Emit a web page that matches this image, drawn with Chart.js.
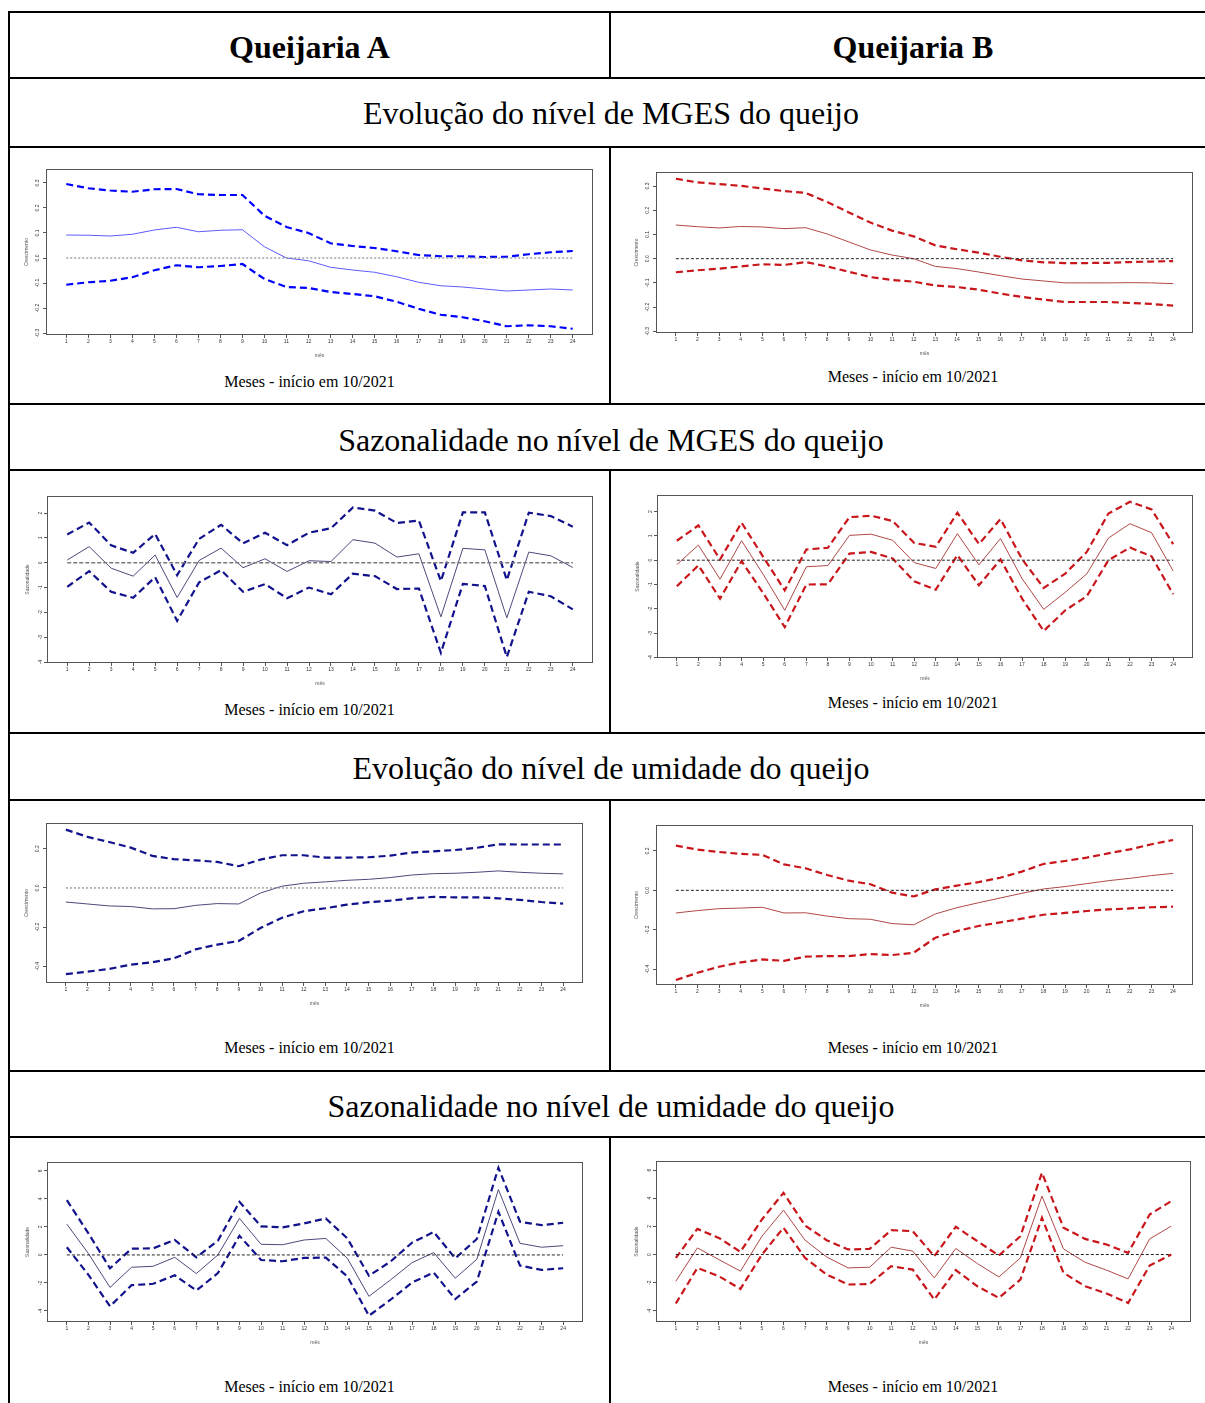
<!DOCTYPE html>
<html>
<head>
<meta charset="utf-8">
<script src="https://cdn.jsdelivr.net/npm/chart.js@4.4.0/dist/chart.umd.min.js"></script>
<style>
  body { margin: 0; background: #fff; }
  #page { position: relative; width: 1205px; height: 1403px; overflow: hidden;
          font-family: "Liberation Serif", "Times New Roman", serif; color: #000; }
  .hl { position: absolute; left: 8px; width: 1207px; height: 2px; background: #000; }
  .vl { position: absolute; width: 2px; background: #000; }
  .txt { position: absolute; text-align: center; white-space: nowrap; }
  .head { font-size: 32px; font-weight: bold; height: 40px; line-height: 40px; }
  .sec { font-size: 32px; height: 40px; line-height: 40px; left: 9px; width: 1204px; }
  .cap { font-size: 16px; height: 20px; line-height: 20px; }
  canvas { position: absolute; }
</style>
</head>
<body>
<div id="page">
  <!-- table lines -->
  <div class="hl" style="top:11px"></div>
  <div class="hl" style="top:77px"></div>
  <div class="hl" style="top:146px"></div>
  <div class="hl" style="top:403px"></div>
  <div class="hl" style="top:469px"></div>
  <div class="hl" style="top:732px"></div>
  <div class="hl" style="top:799px"></div>
  <div class="hl" style="top:1070px"></div>
  <div class="hl" style="top:1136px"></div>
  <div class="vl" style="left:8px;top:11px;height:1392px"></div>
  <div class="vl" style="left:609px;top:11px;height:67px"></div>
  <div class="vl" style="left:609px;top:146px;height:259px"></div>
  <div class="vl" style="left:609px;top:469px;height:265px"></div>
  <div class="vl" style="left:609px;top:799px;height:273px"></div>
  <div class="vl" style="left:609px;top:1136px;height:267px"></div>

  <div class="txt head" style="left:10px;width:599px;top:27px">Queijaria A</div>
  <div class="txt head" style="left:611px;width:604px;top:27px">Queijaria B</div>

  <div class="txt sec" style="top:93px">Evolução do nível de MGES do queijo</div>
  <div class="txt sec" style="top:420px">Sazonalidade no nível de MGES do queijo</div>
  <div class="txt sec" style="top:748px">Evolução do nível de umidade do queijo</div>
  <div class="txt sec" style="top:1086px">Sazonalidade no nível de umidade do queijo</div>

  <div class="txt cap" style="left:10px;width:599px;top:372px">Meses - início em 10/2021</div>
  <div class="txt cap" style="left:611px;width:604px;top:367px">Meses - início em 10/2021</div>
  <div class="txt cap" style="left:10px;width:599px;top:700px">Meses - início em 10/2021</div>
  <div class="txt cap" style="left:611px;width:604px;top:693px">Meses - início em 10/2021</div>
  <div class="txt cap" style="left:10px;width:599px;top:1038px">Meses - início em 10/2021</div>
  <div class="txt cap" style="left:611px;width:604px;top:1038px">Meses - início em 10/2021</div>
  <div class="txt cap" style="left:10px;width:599px;top:1377px">Meses - início em 10/2021</div>
  <div class="txt cap" style="left:611px;width:604px;top:1377px">Meses - início em 10/2021</div>

  <canvas id="c1a"></canvas>
  <canvas id="c1b"></canvas>
  <canvas id="c2a"></canvas>
  <canvas id="c2b"></canvas>
  <canvas id="c3a"></canvas>
  <canvas id="c3b"></canvas>
  <canvas id="c4a"></canvas>
  <canvas id="c4b"></canvas>
</div>

<script>
const months = [1,2,3,4,5,6,7,8,9,10,11,12,13,14,15,16,17,18,19,20,21,22,23,24];
const zeroLine = [0, 0];

// Evolução do nível de MGES
const mgesLevelA_up  = [0.296,0.279,0.270,0.265,0.275,0.276,0.255,0.252,0.252,0.169,0.124,0.100,0.059,0.048,0.040,0.027,0.012,0.007,0.007,0.004,0.005,0.015,0.023,0.028];
const mgesLevelA_fit = [0.092,0.091,0.088,0.095,0.112,0.123,0.105,0.111,0.113,0.045,0.000,-0.011,-0.037,-0.048,-0.057,-0.075,-0.097,-0.111,-0.116,-0.124,-0.132,-0.128,-0.124,-0.128];
const mgesLevelA_lo  = [-0.107,-0.097,-0.091,-0.077,-0.049,-0.029,-0.037,-0.032,-0.024,-0.084,-0.116,-0.120,-0.136,-0.144,-0.153,-0.175,-0.203,-0.227,-0.237,-0.253,-0.273,-0.269,-0.273,-0.283];
const mgesLevelB_up  = [0.330,0.315,0.308,0.301,0.290,0.279,0.272,0.234,0.191,0.149,0.116,0.092,0.055,0.039,0.025,0.008,-0.007,-0.015,-0.018,-0.018,-0.017,-0.014,-0.012,-0.010];
const mgesLevelB_fit = [0.139,0.132,0.127,0.133,0.131,0.124,0.128,0.102,0.069,0.036,0.015,0.000,-0.032,-0.041,-0.055,-0.070,-0.084,-0.092,-0.100,-0.100,-0.100,-0.099,-0.100,-0.103];
const mgesLevelB_lo  = [-0.056,-0.048,-0.041,-0.032,-0.023,-0.026,-0.014,-0.032,-0.054,-0.076,-0.088,-0.095,-0.111,-0.117,-0.128,-0.144,-0.158,-0.169,-0.179,-0.179,-0.179,-0.183,-0.187,-0.194];

// Sazonalidade no nível de MGES
const mgesSeasA_up  = [1.14,1.62,0.70,0.40,1.16,-0.50,0.96,1.53,0.78,1.21,0.71,1.21,1.39,2.23,2.10,1.60,1.70,-0.74,2.03,2.03,-0.70,2.02,1.88,1.45];
const mgesSeasA_fit = [0.11,0.65,-0.22,-0.54,0.31,-1.40,0.09,0.59,-0.20,0.16,-0.35,0.08,0.05,0.93,0.79,0.23,0.36,-2.18,0.58,0.52,-2.22,0.43,0.28,-0.19];
const mgesSeasA_lo  = [-0.97,-0.34,-1.17,-1.41,-0.58,-2.34,-0.79,-0.30,-1.17,-0.86,-1.43,-1.00,-1.27,-0.44,-0.54,-1.06,-1.04,-3.63,-0.85,-0.94,-3.80,-1.17,-1.35,-1.88];
const mgesSeasB_up  = [0.80,1.43,0.03,1.54,0.14,-1.24,0.44,0.51,1.77,1.83,1.61,0.71,0.55,1.95,0.67,1.69,0.04,-1.14,-0.55,0.34,1.92,2.40,2.09,0.66];
const mgesSeasB_fit = [-0.18,0.62,-0.78,0.80,-0.58,-2.06,-0.27,-0.22,1.02,1.07,0.82,-0.10,-0.34,1.09,-0.19,0.89,-0.76,-2.02,-1.32,-0.56,0.91,1.50,1.13,-0.44];
const mgesSeasB_lo  = [-1.07,-0.21,-1.58,-0.04,-1.35,-2.75,-1.00,-0.99,0.27,0.34,0.07,-0.87,-1.21,0.21,-1.03,0.03,-1.58,-2.91,-2.06,-1.48,0.00,0.52,0.16,-1.40];

// Evolução do nível de umidade
const umidLevelA_up  = [0.298,0.261,0.235,0.206,0.164,0.147,0.141,0.133,0.111,0.145,0.167,0.167,0.155,0.155,0.157,0.165,0.181,0.187,0.194,0.205,0.223,0.222,0.222,0.222];
const umidLevelA_fit = [-0.072,-0.082,-0.092,-0.095,-0.107,-0.106,-0.089,-0.080,-0.082,-0.026,0.009,0.024,0.031,0.039,0.044,0.053,0.066,0.073,0.075,0.080,0.087,0.080,0.075,0.072];
const umidLevelA_lo  = [-0.441,-0.428,-0.414,-0.392,-0.380,-0.360,-0.314,-0.290,-0.271,-0.205,-0.152,-0.119,-0.104,-0.085,-0.073,-0.065,-0.053,-0.046,-0.048,-0.048,-0.053,-0.061,-0.072,-0.080];
const umidLevelB_up  = [0.227,0.207,0.195,0.185,0.180,0.132,0.112,0.078,0.049,0.031,-0.012,-0.031,0.005,0.024,0.042,0.064,0.095,0.134,0.149,0.166,0.188,0.208,0.234,0.256];
const umidLevelB_fit = [-0.115,-0.103,-0.093,-0.090,-0.086,-0.115,-0.114,-0.131,-0.144,-0.147,-0.169,-0.175,-0.120,-0.088,-0.063,-0.039,-0.015,0.007,0.019,0.034,0.049,0.061,0.075,0.086];
const umidLevelB_lo  = [-0.456,-0.419,-0.388,-0.366,-0.351,-0.358,-0.337,-0.334,-0.334,-0.324,-0.329,-0.317,-0.241,-0.207,-0.181,-0.163,-0.144,-0.124,-0.115,-0.105,-0.097,-0.092,-0.086,-0.083];

// Sazonalidade no nível de umidade
const umidSeasA_up  = [3.91,1.54,-0.95,0.45,0.47,1.07,-0.17,1.02,3.79,2.04,1.97,2.25,2.61,1.18,-1.49,-0.47,0.88,1.64,-0.24,1.14,6.23,2.37,2.13,2.30];
const umidSeasA_fit = [2.20,0.10,-2.32,-0.88,-0.81,-0.17,-1.33,0.00,2.61,0.76,0.73,1.07,1.18,-0.24,-2.96,-1.78,-0.55,0.17,-1.66,-0.31,4.67,0.83,0.55,0.66];
const umidSeasA_lo  = [0.55,-1.42,-3.67,-2.16,-2.06,-1.45,-2.54,-1.30,1.37,-0.36,-0.45,-0.21,-0.19,-1.54,-4.34,-3.20,-1.97,-1.26,-3.15,-1.90,3.08,-0.76,-1.07,-0.95];
const umidSeasB_up  = [-0.24,1.82,1.18,0.19,2.49,4.38,2.06,1.02,0.36,0.40,1.73,1.66,-0.12,1.97,0.95,-0.07,1.30,5.81,1.90,1.11,0.71,0.12,2.84,3.79];
const umidSeasB_fit = [-1.90,0.47,-0.36,-1.18,1.30,3.15,1.02,-0.17,-0.95,-0.90,0.52,0.24,-1.66,0.43,-0.64,-1.59,-0.24,4.15,0.40,-0.55,-1.11,-1.73,1.11,2.01];
const umidSeasB_lo  = [-3.48,-0.95,-1.54,-2.44,0.00,1.90,-0.24,-1.42,-2.13,-2.09,-0.83,-1.07,-3.20,-1.11,-2.25,-3.08,-1.78,2.61,-1.30,-2.25,-2.77,-3.44,-0.78,0.00];

// tick labels
const yTicksMgesLevel = [-0.3,-0.2,-0.1,0.0,0.1,0.2,0.3];
const yTicksMgesSeas  = [-4,-3,-2,-1,0,1,2];
const yTicksUmidLevel = [-0.4,-0.2,0.0,0.2];
const yTicksUmidSeas  = [-4,-2,0,2,4,6];

const BLUE = { band: '#0000ff', fit: '#5c5cff' };
const NAVY = { band: '#12128c', fit: '#4a4a7c' };
const RED  = { band: '#c8161b', fit: '#b04848' };

// R-like box around the plot region
const boxFrame = {
  id: 'boxFrame',
  afterDraw(chart) {
    const a = chart.chartArea, c = chart.ctx;
    c.save();
    c.strokeStyle = '#555';
    c.lineWidth = 1;
    c.strokeRect(Math.round(a.left) + 0.5, Math.round(a.top) + 0.5,
                 Math.round(a.right - a.left) - 1, Math.round(a.bottom - a.top) - 1);
    c.restore();
  }
};

const PAD_L = 24, PAD_T = 8, PAD_R = 8, PAD_B = 26;

function makeChart(id, box, up, fit, lo, yTicks, yMin, yMax, yTitle, dec, col, zero) {
  const el = document.getElementById(id);
  const w = box[2] - box[0] + PAD_L + PAD_R;
  const h = box[3] - box[1] + PAD_T + PAD_B;
  el.style.left = (box[0] - PAD_L) + 'px';
  el.style.top = (box[1] - PAD_T) + 'px';
  el.width = w; el.height = h;
  el.style.width = w + 'px'; el.style.height = h + 'px';

  const pts = arr => months.map((m, i) => ({ x: m, y: arr[i] }));
  const tickFont = { family: 'Arial, "Liberation Sans", sans-serif', size: 5 };

  return new Chart(el, {
    type: 'line',
    data: {
      datasets: [
        { data: [{ x: months[0], y: zeroLine[0] }, { x: months[months.length - 1], y: zeroLine[1] }],
          borderColor: zero.color, borderWidth: zero.width, borderDash: zero.dash },
        { data: pts(up), borderColor: col.band, borderWidth: 2.2, borderDash: [7, 4] },
        { data: pts(fit), borderColor: col.fit, borderWidth: 1 },
        { data: pts(lo), borderColor: col.band, borderWidth: 2.2, borderDash: [7, 4] }
      ]
    },
    options: {
      responsive: false,
      animation: false,
      events: [],
      elements: { point: { radius: 0 }, line: { tension: 0, fill: false } },
      layout: { padding: { left: 0, top: PAD_T, right: PAD_R, bottom: 0 } },
      plugins: { legend: { display: false }, tooltip: { enabled: false } },
      scales: {
        x: {
          type: 'linear',
          min: 0.08, max: 24.92,
          afterBuildTicks: s => { s.ticks = months.map(v => ({ value: v })); },
          afterFit: s => { s.height = PAD_B; },
          grid: { display: true, drawOnChartArea: false, drawTicks: true, tickLength: 3, color: '#555' },
          border: { display: false },
          ticks: { autoSkip: false, maxRotation: 0, minRotation: 0, padding: 1, color: '#333',
                   font: tickFont, callback: v => String(v) },
          title: { display: true, text: 'mês', color: '#555', font: tickFont, padding: { top: 0, bottom: 2 } }
        },
        y: {
          min: yMin, max: yMax,
          afterBuildTicks: s => { s.ticks = yTicks.map(v => ({ value: v })); },
          afterFit: s => { s.width = PAD_L; },
          grid: { display: true, drawOnChartArea: false, drawTicks: true, tickLength: 3, color: '#555' },
          border: { display: false },
          ticks: { autoSkip: false, minRotation: 90, maxRotation: 90, crossAlign: 'center', padding: 1.5,
                   color: '#333', font: tickFont, callback: v => v.toFixed(dec) },
          title: { display: true, text: yTitle, color: '#555', font: tickFont, padding: { top: 2, bottom: 0 } }
        }
      }
    },
    plugins: [boxFrame]
  });
}

const zGrey  = { color: '#8a8a8a', width: 1.2, dash: [2, 2] };
const zGrey2 = { color: '#7a7a7a', width: 1.5, dash: [4, 2] };
const zBlack = { color: '#222', width: 1, dash: [3, 2] };

makeChart('c1a', [46, 169, 593, 335], mgesLevelA_up, mgesLevelA_fit, mgesLevelA_lo,
          yTicksMgesLevel, -0.308, 0.356, 'Crescimento', 1, BLUE, zGrey);
makeChart('c1b', [656, 172, 1193, 333], mgesLevelB_up, mgesLevelB_fit, mgesLevelB_lo,
          yTicksMgesLevel, -0.307, 0.358, 'Crescimento', 1, RED, zBlack);
makeChart('c2a', [47, 496, 593, 663], mgesSeasA_up, mgesSeasA_fit, mgesSeasA_lo,
          yTicksMgesSeas, -4.04, 2.69, 'Sazonalidade', 0, NAVY, zGrey2);
makeChart('c2b', [657, 495, 1193, 658], mgesSeasB_up, mgesSeasB_fit, mgesSeasB_lo,
          yTicksMgesSeas, -4.02, 2.68, 'Sazonalidade', 0, RED, zBlack);
makeChart('c3a', [46, 823, 583, 983], umidLevelA_up, umidLevelA_fit, umidLevelA_lo,
          yTicksUmidLevel, -0.486, 0.332, 'Crescimento', 1, NAVY, zGrey);
makeChart('c3b', [656, 825, 1193, 985], umidLevelB_up, umidLevelB_fit, umidLevelB_lo,
          yTicksUmidLevel, -0.481, 0.332, 'Crescimento', 1, RED, zBlack);
makeChart('c4a', [47, 1162, 583, 1322], umidSeasA_up, umidSeasA_fit, umidSeasA_lo,
          yTicksUmidSeas, -4.79, 6.64, 'Sazonalidade', 0, NAVY, zBlack);
makeChart('c4b', [656, 1161, 1191, 1322], umidSeasB_up, umidSeasB_fit, umidSeasB_lo,
          yTicksUmidSeas, -4.79, 6.64, 'Sazonalidade', 0, RED, zBlack);
</script>
</body>
</html>
